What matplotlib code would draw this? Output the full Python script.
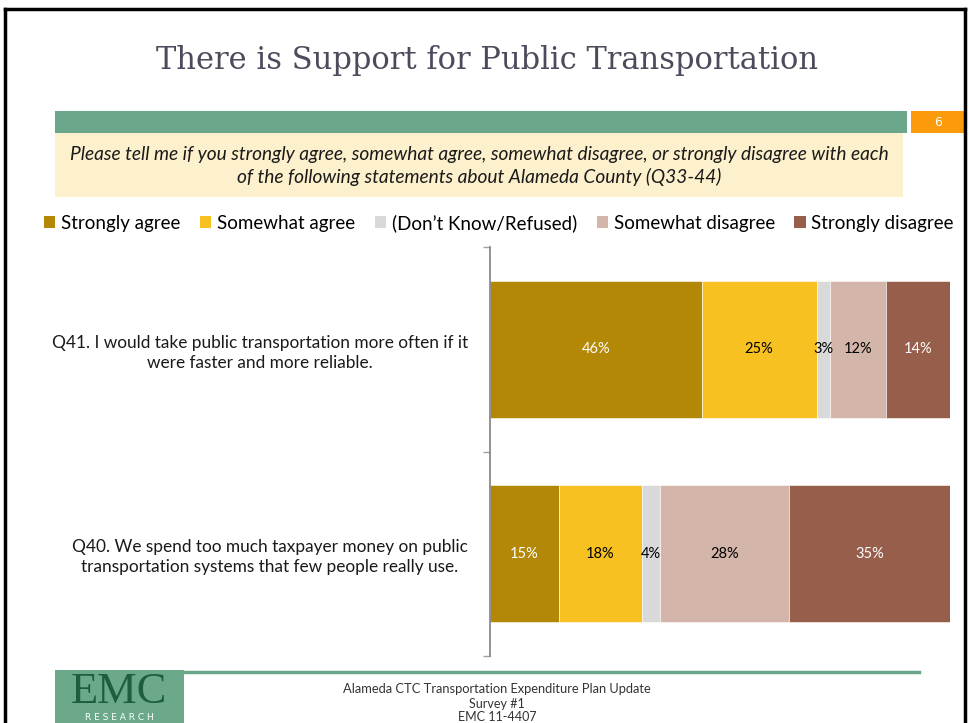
import matplotlib
matplotlib.use("Agg")
import matplotlib.pyplot as plt
from matplotlib.patches import Rectangle, Patch
from matplotlib.lines import Line2D

# data
questions = [
    "Q41. I would take public transportation more often if it\nwere faster and more reliable.",
    "Q40. We spend too much taxpayer money on public\ntransportation systems that few people really use.",
]
series = ["Strongly agree", "Somewhat agree", "(Don\u2019t Know/Refused)",
          "Somewhat disagree", "Strongly disagree"]
values = {
    "Strongly agree":        [46, 15],
    "Somewhat agree":        [25, 18],
    "(Don\u2019t Know/Refused)": [3, 4],
    "Somewhat disagree":     [12, 28],
    "Strongly disagree":     [14, 35],
}
colors = ["#b38806", "#f7c221", "#d9d9d9", "#d3b5a9", "#965e4b"]
label_colors = ["white", "black", "black", "black", "white"]

W, H = 969, 723
plt.rcParams["font.family"] = ["Lato", "DejaVu Sans"]

fig = plt.figure(figsize=(W / 100, H / 100), dpi=100)


def fx(x):
    return x / W


def fy(y):
    return 1 - y / H


def box(x0, y0, x1, y1, color, **kw):
    fig.patches.append(Rectangle((fx(x0), fy(y1)), fx(x1) - fx(x0), fy(y0) - fy(y1),
                                 transform=fig.transFigure, facecolor=color,
                                 edgecolor="none", **kw))


# slide frame
for xs, ys in [((5, 965), (9, 9)), ((5, 5), (9, 723)), ((965, 965), (9, 723))]:
    fig.lines.append(Line2D([fx(x) for x in xs], [fy(y) for y in ys],
                            transform=fig.transFigure, color="black", lw=2.5))

# title
fig.text(fx(487), fy(61), "There is Support for Public Transportation",
         family="DejaVu Serif", fontsize=22, color="#4b4b5c",
         ha="center", va="center")

# header bars
box(55, 111, 907, 133, "#6aa78a")
box(911, 111, 965, 133, "#fb9a0a")
fig.text(fx(938), fy(123), "6", color="white", fontsize=9, ha="center", va="center",
         family="DejaVu Sans")
box(55, 133, 903, 197, "#fdf0cc")
fig.text(fx(479), fy(166),
         "Please tell me if you strongly agree, somewhat agree, somewhat disagree, or strongly disagree with each\n"
         "of the following statements about Alameda County (Q33-44)",
         style="italic", fontsize=13.8, color="#1a1a1a", ha="center", va="center",
         linespacing=1.3)

# chart
ax = fig.add_axes([fx(490), fy(656), fx(950) - fx(490), fy(247) - fy(656)])
ypos = list(range(len(questions)))
left = [0] * len(questions)
for s, c, lc in zip(series, colors, label_colors):
    vals = values[s]
    bars = ax.barh(ypos, vals, left=left, height=0.67, color=c,
                   edgecolor="white", linewidth=0.4, label=s)
    ax.bar_label(bars, labels=[f"{v}%" for v in vals], label_type="center",
                 color=lc, fontsize=10.5)
    left = [l + v for l, v in zip(left, vals)]

ax.set_xlim(0, 100)
ax.set_ylim(len(questions) - 0.5, -0.5)
ax.set_yticks(ypos)
ax.set_yticklabels(questions, fontsize=12.4, color="#1a1a1a", multialignment="center",
                   linespacing=1.3)
ax.tick_params(axis="y", which="major", length=0, pad=16)
ax.set_yticks([-0.5, 0.5, 1.5], minor=True)
ax.tick_params(axis="y", which="minor", length=5, color="#a0a0a0", width=1)
ax.set_xticks([])
for side in ["top", "right", "bottom"]:
    ax.spines[side].set_visible(False)
ax.spines["left"].set_color("#808080")
ax.spines["left"].set_linewidth(1.2)

# legend
handles = [Patch(facecolor=c, edgecolor="none") for c in colors]
fig.legend(handles, series, loc="center", bbox_to_anchor=(fx(499), fy(223)),
           ncol=5, frameon=False, fontsize=13.5, handlelength=0.6, handleheight=0.6,
           handletextpad=0.3, columnspacing=1.05, borderaxespad=0)

# footer
fig.lines.append(Line2D([fx(184), fx(919)], [fy(671.5), fy(671.5)],
                        transform=fig.transFigure, color="#6aa78a", lw=2.5))
box(55, 670, 184, 723, "#6ba98a")
fig.text(fx(119), fy(692), "EMC", family="Liberation Serif", fontsize=32,
         color="#1d5e3c", ha="center", va="center")
fig.text(fx(119), fy(717), "R E S E A R C H", family="DejaVu Sans", fontsize=6.5,
         color="white", ha="center", va="center")
fig.text(fx(497), fy(689), "Alameda CTC Transportation Expenditure Plan Update",
         fontsize=9.3, color="#333333", ha="center", va="center")
fig.text(fx(497), fy(704), "Survey #1", fontsize=9, color="#333333",
         ha="center", va="center")
fig.text(fx(497), fy(717), "EMC 11-4407", fontsize=9, color="#333333",
         ha="center", va="center")

fig.savefig("out.png", dpi=100)
